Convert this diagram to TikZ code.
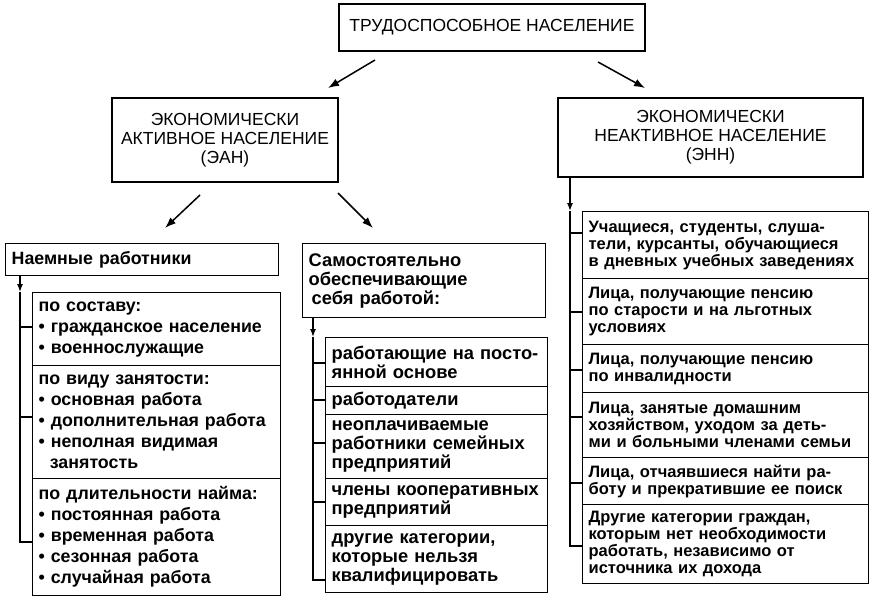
\documentclass[tikz,border=0pt]{standalone}
\usepackage{fontspec}
\setmainfont{Liberation Sans}
\usetikzlibrary{arrows.meta}
\tikzset{
  hdr/.style={draw, line width=1.3pt, inner sep=0pt, align=center,
    font=\fontsize{17.5}{19}\selectfont},
  cell/.style={draw, line width=1.3pt, anchor=north west, inner xsep=6pt,
    inner ysep=0pt, align=left},
  lcol/.style={cell, font=\fontsize{17.8}{21}\selectfont\bfseries},
  mcol/.style={cell, font=\fontsize{18.3}{19}\selectfont\bfseries},
  rcol/.style={cell, font=\fontsize{16.5}{17}\selectfont\bfseries},
  diag/.style={line width=1.5pt, -{Latex[length=11pt,width=8pt]}},
  down/.style={line width=1.3pt, -{Latex[length=8pt,width=6pt]}},
  wire/.style={line width=1.3pt},
}
\begin{document}
\begin{tikzpicture}[x=1pt,y=-1pt]
\useasboundingbox (0,0) rectangle (872,604);
% headers
\node[hdr, minimum width=306pt, minimum height=47pt] (T) at (492,27.5) {ТРУДОСПОСОБНОЕ НАСЕЛЕНИЕ};
\node[hdr, minimum width=226pt, minimum height=84pt] (A) at (225,140) {ЭКОНОМИЧЕСКИ\\АКТИВНОЕ НАСЕЛЕНИЕ\\(ЭАН)};
\node[hdr, minimum width=305pt, minimum height=79pt] (N) at (710.5,137.5) {ЭКОНОМИЧЕСКИ\\НЕАКТИВНОЕ НАСЕЛЕНИЕ\\(ЭНН)};
% diagonal arrows
\coordinate (t1) at (375,60); \coordinate (t1e) at (328,88);
\coordinate (t2) at (598,62); \coordinate (t2e) at (645,88);
\coordinate (a1) at (200,195); \coordinate (a1e) at (165,228);
\coordinate (a2) at (338,193); \coordinate (a2e) at (373,228);
\draw[diag] (t1) -- (t1e);
\draw[diag] (t2) -- (t2e);
\draw[diag] (a1) -- (a1e);
\draw[diag] (a2) -- (a2e);
% second level
\node[lcol, text width=261pt, minimum height=32pt] (H) at (5,243) {Наемные работники};
\node[mcol, text width=231pt, minimum height=74pt] (S) at (302,243) {Самостоятельно\\обеспечивающие\\\hspace*{3pt}себя работой:};
% left column
\node[lcol, text width=236pt, minimum height=73pt] (h1) at (32,292) {по составу:\\• гражданское население\\• военнослужащие};
\node[lcol, text width=236pt, minimum height=113pt] (h2) at (32,365) {по виду занятости:\\• основная работа\\• дополнительная работа\\• неполная видимая\\\hspace*{0.63em}занятость};
\node[lcol, text width=236pt, minimum height=117pt] (h3) at (32,478) {по длительности найма:\\• постоянная работа\\• временная работа\\• сезонная работа\\• случайная работа};
\coordinate (vL) at (20,542);
\draw[down] (H.south -| vL) -- (vL |- h1.north);
\draw[wire] (vL |- h1.north) -- (vL) -- (vL -| h3.west);
\draw[wire] (vL |- 0,327) -- (h1.west |- 0,327);
\draw[wire] (vL |- 0,417) -- (h2.west |- 0,417);
% middle column
\node[mcol, text width=210pt, minimum height=49pt] (s1) at (325,337) {работающие на посто-\\янной основе};
\node[mcol, text width=210pt, minimum height=28pt] (s2) at (325,386) {работодатели};
\node[mcol, text width=210pt, minimum height=64pt] (s3) at (325,414) {неоплачиваемые\\работники семейных\\предприятий};
\node[mcol, text width=210pt, minimum height=47pt] (s4) at (325,478) {члены кооперативных\\предприятий};
\node[mcol, text width=210pt, minimum height=67pt] (s5) at (325,525) {другие категории,\\которые нельзя\\квалифицировать};
\coordinate (vM) at (313,580);
\draw[down] (S.south -| vM) -- (vM |- s1.north);
\draw[wire] (vM |- s1.north) -- (vM) -- (vM -| s5.west);
\draw[wire] (vM |- 0,363) -- (s1.west |- 0,363);
\draw[wire] (vM |- 0,400) -- (s2.west |- 0,400);
\draw[wire] (vM |- 0,443) -- (s3.west |- 0,443);
\draw[wire] (vM |- 0,502) -- (s4.west |- 0,502);
% right column
\node[rcol, text width=274pt, minimum height=67pt] (r1) at (582,211) {Учащиеся, студенты, слуша-\\тели, курсанты, обучающиеся\\в дневных учебных заведениях};
\node[rcol, text width=274pt, minimum height=66pt] (r2) at (582,278) {Лица, получающие пенсию\\по старости и на льготных\\условиях};
\node[rcol, text width=274pt, minimum height=48pt] (r3) at (582,344) {Лица, получающие пенсию\\по инвалидности};
\node[rcol, text width=274pt, minimum height=65pt] (r4) at (582,392) {Лица, занятые домашним\\хозяйством, уходом за деть-\\ми и больными членами семьи};
\node[rcol, text width=274pt, minimum height=47pt] (r5) at (582,457) {Лица, отчаявшиеся найти ра-\\боту и прекратившие ее поиск};
\node[rcol, text width=274pt, minimum height=79pt] (r6) at (582,504) {Другие категории граждан,\\которым нет необходимости\\работать, независимо от\\источника их дохода};
\coordinate (vR) at (570,546);
\draw[down] (N.south -| vR) -- (vR |- r1.north);
\draw[wire] (vR |- r1.north) -- (vR) -- (vR -| r6.west);
\draw[wire] (vR |- 0,233) -- (r1.west |- 0,233);
\draw[wire] (vR |- 0,312) -- (r2.west |- 0,312);
\draw[wire] (vR |- 0,370) -- (r3.west |- 0,370);
\draw[wire] (vR |- 0,417) -- (r4.west |- 0,417);
\draw[wire] (vR |- 0,483) -- (r5.west |- 0,483);
\end{tikzpicture}
\end{document}
